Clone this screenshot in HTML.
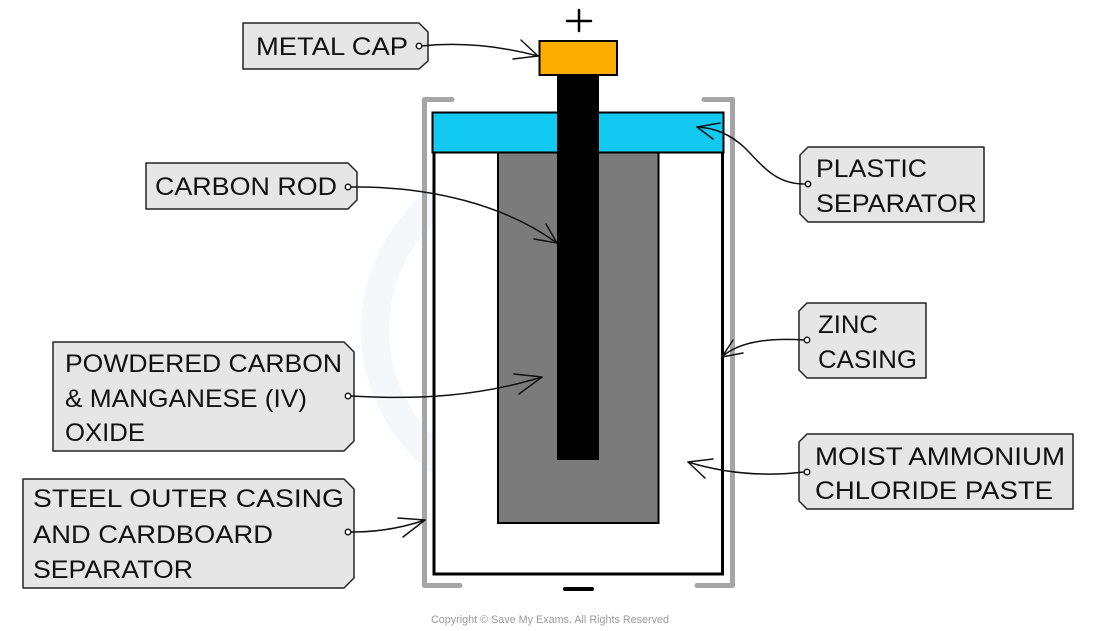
<!DOCTYPE html>
<html>
<head>
<meta charset="utf-8">
<style>
  html,body{margin:0;padding:0;background:#fff;}
  svg{display:block;}
  .lbl{font-family:"Liberation Sans",sans-serif;font-size:25px;fill:#111;}
</style>
</head>
<body>
<svg width="1100" height="631" viewBox="0 0 1100 631" xmlns="http://www.w3.org/2000/svg">
  <rect width="1100" height="631" fill="#fff"/>

  <!-- faint watermark -->
  <circle cx="540" cy="330" r="165" fill="none" stroke="#f5f8fb" stroke-width="28"/>

  <!-- steel outer casing brackets -->
  <path d="M452 99.5 L424.5 99.5 L424.5 585.5 L460 585.5" fill="none" stroke="#a5a5a5" stroke-width="5" stroke-linecap="round" stroke-linejoin="round"/>
  <path d="M704 99.5 L732.5 99.5 L732.5 585.5 L697 585.5" fill="none" stroke="#a5a5a5" stroke-width="5" stroke-linecap="round" stroke-linejoin="round"/>

  <!-- zinc casing -->
  <path d="M434 150 L434 574 L722.5 574 L722.5 150" fill="#fff" stroke="#000" stroke-width="3"/>

  <!-- paste / powdered block -->
  <rect x="498" y="150" width="160.5" height="373" fill="#7b7b7b" stroke="#000" stroke-width="2"/>

  <!-- plastic separator -->
  <rect x="432.5" y="112.5" width="291" height="40" fill="#12c9f1" stroke="#000" stroke-width="2"/>

  <!-- carbon rod -->
  <rect x="557" y="74" width="42" height="386" fill="#000"/>

  <!-- metal cap -->
  <rect x="539.5" y="41" width="77.5" height="34" fill="#fdad00" stroke="#000" stroke-width="2"/>

  <!-- plus / minus -->
  <path d="M579 10 L579 31 M567 21 L591 21" stroke="#000" stroke-width="2.5" stroke-linecap="round"/>
  <path d="M565 589 L592 589" stroke="#000" stroke-width="4" stroke-linecap="round"/>

  <!-- label boxes -->
  <g fill="#e6e6e6" stroke="#222" stroke-width="1.5" stroke-linejoin="round">
    <polygon points="243,23 419,23 428,32 428,61 419,69 243,69"/>
    <polygon points="146,163 348,163 357,172 357,200 348,209 146,209"/>
    <polygon points="53,342 344,342 354,352 354,441 344,451 53,451"/>
    <polygon points="23,479 344,479 354,489 354,578 344,588 23,588"/>
    <polygon points="808,147 984,147 984,222 808,222 800,214 800,155"/>
    <polygon points="807,303 926,303 926,378 807,378 799,370 799,311"/>
    <polygon points="807,434 1073,434 1073,509 807,509 799,501 799,442"/>
  </g>

  <!-- label text -->
  <text class="lbl" x="256" y="55" textLength="152" lengthAdjust="spacingAndGlyphs">METAL CAP</text>
  <text class="lbl" x="155" y="195" textLength="182" lengthAdjust="spacingAndGlyphs">CARBON ROD</text>
  <text class="lbl" x="65" y="372" textLength="277" lengthAdjust="spacingAndGlyphs">POWDERED CARBON</text>
  <text class="lbl" x="65" y="407" textLength="242" lengthAdjust="spacingAndGlyphs">&amp; MANGANESE (IV)</text>
  <text class="lbl" x="65" y="441" textLength="80" lengthAdjust="spacingAndGlyphs">OXIDE</text>
  <text class="lbl" x="33" y="507" textLength="311" lengthAdjust="spacingAndGlyphs">STEEL OUTER CASING</text>
  <text class="lbl" x="33" y="543" textLength="240" lengthAdjust="spacingAndGlyphs">AND CARDBOARD</text>
  <text class="lbl" x="33" y="578" textLength="160" lengthAdjust="spacingAndGlyphs">SEPARATOR</text>
  <text class="lbl" x="816" y="177" textLength="111" lengthAdjust="spacingAndGlyphs">PLASTIC</text>
  <text class="lbl" x="816" y="212" textLength="161" lengthAdjust="spacingAndGlyphs">SEPARATOR</text>
  <text class="lbl" x="818" y="333" textLength="60" lengthAdjust="spacingAndGlyphs">ZINC</text>
  <text class="lbl" x="818" y="368" textLength="99" lengthAdjust="spacingAndGlyphs">CASING</text>
  <text class="lbl" x="815" y="465" textLength="250" lengthAdjust="spacingAndGlyphs">MOIST AMMONIUM</text>
  <text class="lbl" x="815" y="499" textLength="238" lengthAdjust="spacingAndGlyphs">CHLORIDE PASTE</text>

  <!-- connectors -->
  <g fill="none" stroke="#111" stroke-width="1.5" stroke-linecap="round" stroke-linejoin="round">
    <path d="M421 46 C460 42, 500 46, 538 56"/>
    <path d="M521 40 L538 56 L513 59"/>

    <path d="M351 187 C430 186, 505 205, 557 243"/>
    <path d="M546 224 L557 243 L534 239"/>

    <path d="M351 396 C420 400, 480 396, 542 377"/>
    <path d="M514 374 L542 377 L519 394"/>

    <path d="M351 532 C380 532, 405 527, 425 520"/>
    <path d="M398 518 L425 520 L403 537"/>

    <path d="M804 184 C775 184, 762 165, 745 148 C730 134, 715 128, 697 127"/>
    <path d="M720 123 L697 127 L713 139"/>

    <path d="M804 340 C775 338, 740 340, 722 357"/>
    <path d="M733 340 L722 357 L743 353"/>

    <path d="M804 472 C770 476, 730 475, 688 462"/>
    <path d="M713 459 L688 462 L705 478"/>
  </g>

  <!-- connector dots -->
  <g fill="#fff" stroke="#111" stroke-width="1.3">
    <circle cx="419" cy="46" r="2.8"/>
    <circle cx="348" cy="187" r="2.8"/>
    <circle cx="348" cy="396" r="2.8"/>
    <circle cx="348" cy="532" r="2.8"/>
    <circle cx="808" cy="184" r="2.8"/>
    <circle cx="807" cy="340" r="2.8"/>
    <circle cx="807" cy="472" r="2.8"/>
  </g>

  <!-- copyright -->
  <text x="431" y="623" font-family="Liberation Sans, sans-serif" font-size="11" fill="#9a9a9a" textLength="238" lengthAdjust="spacingAndGlyphs">Copyright © Save My Exams. All Rights Reserved</text>
</svg>
</body>
</html>
